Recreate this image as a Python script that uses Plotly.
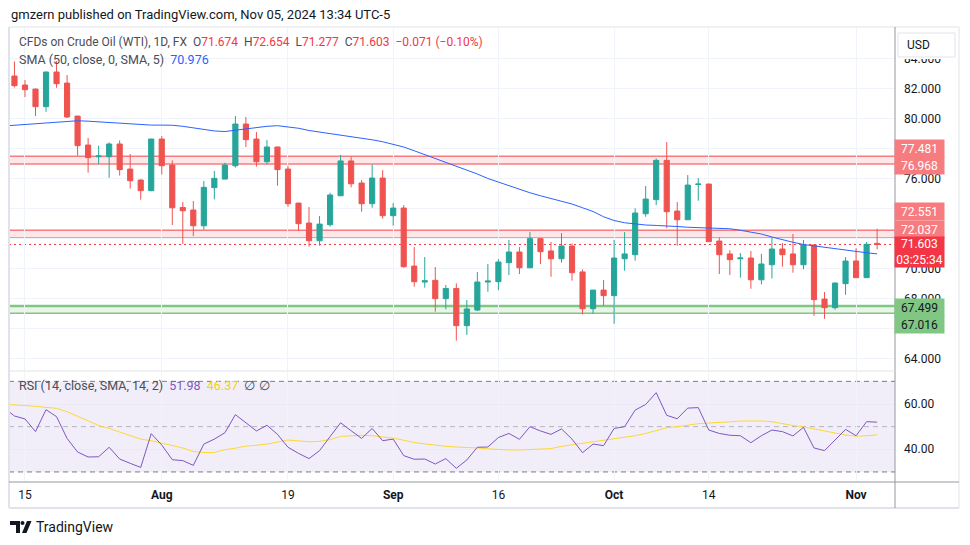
import plotly.graph_objects as go

# ---------------- data ----------------
dates = [
    "Jul 11", "Jul 12", "Jul 15", "Jul 16", "Jul 17", "Jul 18", "Jul 19", "Jul 22", "Jul 23", "Jul 24",
    "Jul 25", "Jul 26", "Jul 29", "Jul 30", "Jul 31", "Aug 1", "Aug 2", "Aug 5", "Aug 6", "Aug 7",
    "Aug 8", "Aug 9", "Aug 12", "Aug 13", "Aug 14", "Aug 15", "Aug 16", "Aug 19", "Aug 20", "Aug 21",
    "Aug 22", "Aug 23", "Aug 26", "Aug 27", "Aug 28", "Aug 29", "Aug 30", "Sep 2", "Sep 3", "Sep 4",
    "Sep 5", "Sep 6", "Sep 9", "Sep 10", "Sep 11", "Sep 12", "Sep 13", "Sep 16", "Sep 17", "Sep 18",
    "Sep 19", "Sep 20", "Sep 23", "Sep 24", "Sep 25", "Sep 26", "Sep 27", "Sep 30", "Oct 1", "Oct 2",
    "Oct 3", "Oct 4", "Oct 7", "Oct 8", "Oct 9", "Oct 10", "Oct 11", "Oct 14", "Oct 15", "Oct 16",
    "Oct 17", "Oct 18", "Oct 21", "Oct 22", "Oct 23", "Oct 24", "Oct 25", "Oct 28", "Oct 29", "Oct 30",
    "Oct 31", "Nov 1", "Nov 4", "Nov 5",
]

open_ = [None,
    82.83, 82.23, 81.96, 80.79, 83.10, 82.36, 80.16, 78.23, 77.45, 77.45,
    78.30, 76.63, 75.90, 75.19, 78.63, 76.90, 74.07, 73.90, 72.85, 75.39,
    75.96, 76.85, 79.63, 78.63, 77.12, 78.10, 76.63, 74.36, 73.03, 71.85,
    72.92, 74.85, 77.17, 75.70, 74.32, 76.03, 73.52, 74.03, 70.16, 69.10,
    69.21, 67.99, 68.67, 66.19, 67.23, 69.10, 69.12, 70.39, 71.10, 70.05,
    71.99, 71.17, 70.65, 71.50, 69.77, 67.32, 68.56, 68.19, 70.65, 70.92,
    73.65, 74.59, 77.21, 73.83, 73.25, 75.60, 75.63, 71.83, 70.97, 70.65,
    70.70, 69.25, 70.25, 71.30, 70.97, 70.25, 71.57, 67.96, 67.39, 68.99,
    70.50, 69.39, 71.674]
high = [None,
    83.80, 82.56, 82.00, 83.12, 83.83, 82.90, 80.18, 78.70, 78.19, 78.41,
    78.54, 77.63, 75.94, 78.65, 78.83, 77.21, 74.43, 74.50, 75.83, 76.50,
    77.05, 80.16, 80.10, 79.10, 78.56, 78.12, 76.83, 74.38, 74.10, 73.50,
    75.05, 77.56, 77.45, 75.90, 76.94, 76.56, 74.36, 74.23, 71.43, 70.76,
    70.10, 68.90, 69.01, 67.90, 69.76, 70.30, 70.63, 71.90, 71.43, 72.43,
    72.01, 71.77, 72.36, 71.68, 69.94, 68.58, 69.23, 71.90, 72.43, 74.01,
    75.50, 77.34, 78.43, 74.43, 76.23, 76.03, 75.65, 72.08, 71.23, 71.03,
    71.17, 70.97, 72.03, 71.70, 72.30, 71.90, 71.59, 68.43, 69.07, 70.76,
    71.36, 71.77, 72.654]
low = [None,
    82.07, 81.43, 80.16, 80.45, 82.05, 80.03, 77.52, 76.39, 76.96, 76.05,
    76.19, 75.32, 74.59, 75.15, 76.27, 72.90, 71.63, 72.16, 72.59, 74.61,
    75.96, 76.72, 78.10, 76.79, 76.94, 75.52, 74.12, 72.52, 71.45, 71.52,
    72.79, 74.83, 75.41, 73.79, 74.05, 73.32, 72.85, 70.05, 68.79, 68.72,
    67.12, 67.28, 65.19, 65.57, 67.17, 68.45, 68.56, 69.56, 69.63, 70.03,
    70.30, 69.45, 70.39, 69.19, 66.94, 66.99, 67.52, 66.32, 69.85, 70.52,
    73.45, 74.23, 72.68, 71.52, 73.23, 74.52, 71.77, 69.63, 69.56, 69.39,
    68.65, 68.94, 69.34, 70.12, 69.72, 69.94, 66.85, 66.65, 67.25, 68.25,
    69.37, 69.37, 71.277]
close = [None,
    82.19, 81.92, 80.79, 83.10, 82.32, 80.10, 78.19, 77.39, 77.50, 78.30,
    76.59, 75.85, 75.19, 78.63, 76.85, 74.05, 73.85, 72.85, 75.41, 76.01,
    76.90, 79.63, 78.59, 77.12, 78.10, 76.59, 74.32, 72.99, 71.85, 72.96,
    74.90, 77.17, 75.65, 74.32, 76.03, 73.52, 74.03, 70.12, 69.12, 69.18,
    67.99, 68.67, 66.19, 67.30, 69.10, 69.16, 70.43, 71.10, 70.05, 71.99,
    71.12, 70.65, 71.50, 69.72, 67.32, 68.56, 68.19, 70.70, 70.97, 73.70,
    74.63, 77.21, 73.79, 73.25, 75.56, 75.63, 71.79, 70.92, 70.59, 70.70,
    69.25, 70.30, 71.30, 70.92, 70.25, 71.57, 67.92, 67.39, 69.03, 70.50,
    69.39, 71.61, 71.603]

sma50 = [79.50,
    79.55, 79.60, 79.65, 79.70, 79.76, 79.82, 79.85, 79.82, 79.78, 79.72,
    79.67, 79.62, 79.58, 79.56, 79.56, 79.55, 79.48, 79.38, 79.25, 79.17,
    79.13, 79.22, 79.32, 79.42, 79.48, 79.52, 79.45, 79.35, 79.20, 79.10,
    79.00, 78.92, 78.80, 78.68, 78.58, 78.45, 78.30, 78.10, 77.85, 77.60,
    77.35, 77.10, 76.85, 76.60, 76.30, 76.00, 75.75, 75.50, 75.25, 75.05,
    74.85, 74.68, 74.50, 74.30, 74.05, 73.80, 73.45, 73.20, 73.05, 72.95,
    72.90, 72.87, 72.85, 72.80, 72.75, 72.73, 72.72, 72.70, 72.65, 72.55,
    72.45, 72.30, 72.10, 71.90, 71.75, 71.60, 71.50, 71.40, 71.30, 71.22,
    71.12, 71.05, 70.976]

rsi = [58.3,
    54.7, 53.4, 47.8, 57.5, 54.4, 44.8, 38.8, 36.6, 36.7, 40.9,
    35.7, 33.8, 32.0, 46.9, 41.9, 35.4, 35.0, 32.9, 42.3, 44.5,
    47.3, 55.3, 51.9, 48.1, 50.6, 46.6, 40.9, 38.2, 35.9, 39.4,
    45.6, 51.7, 48.2, 44.8, 49.2, 43.8, 44.5, 37.2, 35.6, 35.7,
    33.5, 35.9, 31.6, 35.3, 40.9, 41.0, 45.2, 47.0, 44.4, 50.0,
    48.1, 46.6, 49.0, 44.5, 38.5, 42.3, 41.6, 49.2, 50.0, 57.3,
    59.8, 65.0, 55.0, 53.5, 58.2, 58.4, 48.5, 47.0, 46.2, 46.0,
    42.9, 46.0, 48.5, 47.8, 45.9, 49.7, 40.6, 39.4, 44.1, 48.8,
    46.0, 52.2, 51.98]

rsi_sma = [59.9,
    59.7, 59.5, 59.0, 58.5, 58.1, 56.6, 54.5, 52.5, 50.5, 49.2,
    47.6, 46.0, 44.5, 43.8, 42.8, 41.8, 40.6, 39.0, 38.6, 38.6,
    39.8, 40.5, 41.4, 41.8, 42.3, 43.2, 44.1, 43.7, 43.3, 43.5,
    44.3, 45.7, 46.0, 46.2, 46.0, 45.6, 44.9, 44.0, 43.0, 42.4,
    41.7, 41.3, 41.0, 40.9, 40.6, 40.2, 39.8, 39.7, 39.7, 39.8,
    40.1, 40.3, 41.3, 42.0, 42.7, 43.3, 43.8, 44.5, 45.2, 46.0,
    47.0, 48.3, 49.5, 50.0, 50.7, 51.3, 51.6, 51.7, 52.1, 52.5,
    52.6, 52.5, 52.2, 51.3, 50.5, 49.9, 48.9, 48.2, 47.2, 46.3,
    45.8, 46.0, 46.37]

tick_dates = ["Jul 15", "Aug 1", "Aug 19", "Sep 2", "Sep 16", "Oct 1", "Oct 14", "Nov 1"]
tick_labels = ["15", "<b>Aug</b>", "19", "<b>Sep</b>", "16", "<b>Oct</b>", "14", "<b>Nov</b>"]

price_ticks = [64, 66, 68, 70, 72, 74, 76, 78, 80, 82, 84]
hidden_price_ticks = [66, 72, 74, 78]   # covered by the price-label boxes
rsi_ticks = [40, 60]

red_zones = [(76.968, 77.481), (72.037, 72.551)]
green_zone = (67.016, 67.499)
last_price = 71.603

# ---------------- geometry helpers ----------------
# coordinates below are screen pixels; the page body adds an 8px offset
OFF = 8
L, R, T, B = 9, 895, 28, 481      # plot area in screen pixels


def px(x):
    return (x - L) / (R - L)


def py(y):
    return (B - y) / (B - T)


def price_at(y):
    return 82 - (y - 88.5) / 15.0


UP, DOWN = "#26a69a", "#ef5350"
FONT = "Roboto, Arial, sans-serif"
TXT = "#131722"

xs = list(range(len(dates)))
tickvals = [dates.index(d) for d in tick_dates]
x0 = dates.index("Jul 12")

fig = go.Figure()

fig.add_trace(go.Candlestick(
    x=xs, open=open_, high=high, low=low, close=close,
    increasing=dict(line=dict(color=UP, width=1), fillcolor=UP),
    decreasing=dict(line=dict(color=DOWN, width=1), fillcolor=DOWN),
    whiskerwidth=0, showlegend=False, hoverinfo="skip",
    xaxis="x", yaxis="y"))
fig.add_trace(go.Scatter(x=xs, y=sma50, mode="lines", line=dict(color="#2962ff", width=1),
                         showlegend=False, hoverinfo="skip", xaxis="x", yaxis="y"))
fig.add_trace(go.Scatter(x=xs, y=rsi_sma, mode="lines", line=dict(color="#fdd835", width=1),
                         showlegend=False, hoverinfo="skip", xaxis="x", yaxis="y2"))
fig.add_trace(go.Scatter(x=xs, y=rsi, mode="lines", line=dict(color="#7e57c2", width=1),
                         showlegend=False, hoverinfo="skip", xaxis="x", yaxis="y2"))

shapes = []
for lo, hi in red_zones:
    shapes.append(dict(type="rect", xref="paper", yref="y", x0=0, x1=1, y0=lo, y1=hi,
                       fillcolor="rgba(242,54,69,0.12)", line=dict(width=0), layer="below"))
    for v in (lo, hi):
        shapes.append(dict(type="line", xref="paper", yref="y", x0=0, x1=1, y0=v, y1=v,
                           line=dict(color="#f77c80", width=1.5), layer="below"))
shapes.append(dict(type="rect", xref="paper", yref="y", x0=0, x1=1, y0=green_zone[0], y1=green_zone[1],
                   fillcolor="rgba(76,175,80,0.13)", line=dict(width=0), layer="below"))
shapes.append(dict(type="line", xref="paper", yref="y", x0=0, x1=1, y0=green_zone[1], y1=green_zone[1],
                   line=dict(color="#81c784", width=2.5), layer="below"))
shapes.append(dict(type="line", xref="paper", yref="y", x0=0, x1=1, y0=green_zone[0], y1=green_zone[0],
                   line=dict(color="#81c784", width=1.5), layer="below"))
shapes.append(dict(type="line", xref="paper", yref="y", x0=0, x1=1, y0=last_price, y1=last_price,
                   line=dict(color="#f23645", width=1, dash="2px,3px"), layer="below"))
shapes.append(dict(type="rect", xref="paper", yref="y2", x0=0, x1=1, y0=30, y1=70,
                   fillcolor="rgba(126,87,194,0.10)", line=dict(width=0), layer="below"))
for v, c in ((70, "#787b86"), (50, "#b2b5be"), (30, "#787b86")):
    shapes.append(dict(type="line", xref="paper", yref="y2", x0=0, x1=1, y0=v, y1=v,
                       line=dict(color=c, width=1, dash="5px,4px"), layer="below"))


def pline(xa, ya, xb, yb, color, width=1):
    shapes.append(dict(type="line", xref="paper", yref="paper", x0=px(xa), y0=py(ya), x1=px(xb), y1=py(yb),
                       line=dict(color=color, width=width), layer="above"))


pline(9, 27, 959, 27, "#e0e3eb")
pline(9, 27, 9, 508, "#e0e3eb", 2)
pline(959, 27, 959, 508, "#e0e3eb")
pline(9, 508, 959, 508, "#e0e3eb", 2)
pline(895, 27, 895, 508, "#9598a1")
pline(9, 482, 959, 482, "#9598a1")
pline(9, 371, 895, 371, "#e0e3eb")

# white strip that half-covers the top price label, then the USD button
shapes.append(dict(type="rect", xref="paper", yref="paper", x0=px(897), x1=px(957), y0=py(59), y1=py(30),
                   fillcolor="white", line=dict(width=0), layer="above"))
shapes.append(dict(type="rect", xref="paper", yref="paper", x0=px(898), x1=px(955), y0=py(57), y1=py(33),
                   fillcolor="white", line=dict(color="#e0e3eb", width=1), layer="above"))


def ppath(points):
    return "M " + " L ".join(f"{px(a)},{py(b)}" for a, b in points) + " Z"


shapes.append(dict(type="path", xref="paper", yref="paper",
                   path=ppath([(10, 521), (20, 521), (20, 533), (16, 533), (16, 525), (10, 525)]),
                   fillcolor="#131722", line=dict(width=0), layer="above"))
shapes.append(dict(type="circle", xref="paper", yref="paper", x0=px(20.5), x1=px(24.5), y0=py(525), y1=py(521),
                   fillcolor="#131722", line=dict(width=0), layer="above"))
shapes.append(dict(type="path", xref="paper", yref="paper",
                   path=ppath([(27, 521), (31.5, 521), (26.5, 533), (22, 533)]),
                   fillcolor="#131722", line=dict(width=0), layer="above"))

annotations = []


def ann(x, y, text, size=13, color=TXT, xanchor="left", **kw):
    annotations.append(dict(x=px(x), y=py(y), xref="paper", yref="paper", text=text, showarrow=False,
                            xanchor=xanchor, yanchor="middle", font=dict(family=FONT, size=size, color=color),
                            **kw))


RED = "#f23645"
ann(10, 14, "gmzern published on TradingView.com, Nov 05, 2024 13:34 UTC-5", 13, borderpad=0)
ann(17, 42, "CFDs on Crude Oil (WTI), 1D, FX  "
            f"O<span style='color:{RED}'>71.674</span>  H<span style='color:{RED}'>72.654</span>  "
            f"L<span style='color:{RED}'>71.277</span>  C<span style='color:{RED}'>71.603</span>  "
            f"<span style='color:{RED}'>\u22120.071 (\u22120.10%)</span>", 12, "#4a4d57")
ann(17, 59, "SMA (50, close, 0, SMA, 5)  <span style='color:#2962ff'>70.976</span>", 12.5, "#4a4d57")
ann(17, 385, "RSI (14, close, SMA, 14, 2)  <span style='color:#7e57c2'>51.98</span>  "
             "<span style='color:#f5d400'>46.37</span>  \u2205 \u2205", 12.5, "#4a4d57")
ann(905, 45, "USD", 12)
ann(34, 527, "TradingView", 14)


def plabel(y, text, bg, fg="white", h=15):
    annotations.append(dict(x=px(920), y=py(y), xref="paper", yref="paper", text=text, showarrow=False,
                            xanchor="center", yanchor="middle", bgcolor=bg, width=47, height=h, borderpad=1,
                            font=dict(family=FONT, size=12, color=fg)))


plabel(148, "77.481", "#f77c80")
plabel(165, "76.968", "#f77c80")
plabel(212, "72.551", "#f77c80")
plabel(229, "72.037", "#f77c80")
plabel(252, "71.603<br>03:25:34", "#f23645", h=28)
plabel(307, "67.499", "#81c784", TXT)
plabel(324, "67.016", "#81c784", TXT)

fig.update_layout(
    width=970, height=545,
    margin=dict(l=L - OFF, r=970 - (R - OFF), t=T - OFF, b=545 - (B - OFF), pad=0),
    paper_bgcolor="white", plot_bgcolor="white",
    showlegend=False,
    font=dict(family=FONT, size=12, color=TXT),
    xaxis=dict(domain=[0, 1], range=[x0 - 0.52, x0 + 83.7], anchor="y2",
               tickmode="array", tickvals=tickvals, ticktext=tick_labels,
               showgrid=True, gridcolor="#f0f3fa", gridwidth=1, zeroline=False, showline=False,
               ticks="", ticklabelstandoff=5, tickfont=dict(family=FONT, size=12, color=TXT),
               rangeslider=dict(visible=False), fixedrange=True),
    yaxis=dict(domain=[py(370), 1], range=[price_at(370), price_at(28)], side="right", anchor="x",
               tickmode="array", tickvals=price_ticks,
               ticktext=["" if v in hidden_price_ticks else f"{v:.3f}" for v in price_ticks],
               showgrid=True, gridcolor="#f0f3fa", zeroline=False, showline=False, ticks="",
               ticklabelstandoff=8, tickfont=dict(family=FONT, size=12, color=TXT)),
    yaxis2=dict(domain=[0, py(372)], range=[26.0, 74.13], side="right", anchor="x",
                tickmode="array", tickvals=rsi_ticks, ticktext=[f"{v:.2f}" for v in rsi_ticks],
                showgrid=True, gridcolor="#ebe9f5", zeroline=False, showline=False, ticks="",
                ticklabelstandoff=8, tickfont=dict(family=FONT, size=12, color=TXT)),
    shapes=shapes,
    annotations=annotations,
)

fig.write_html("out.html")
